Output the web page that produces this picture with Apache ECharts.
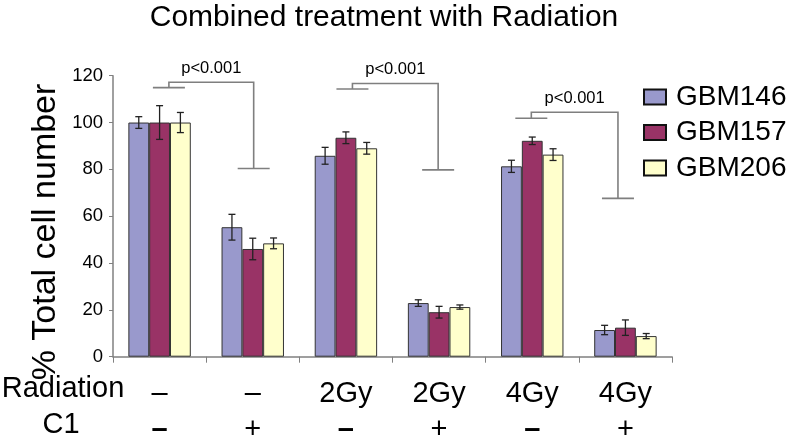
<!DOCTYPE html>
<html><head><meta charset="utf-8">
<script src="https://cdn.jsdelivr.net/npm/echarts@6/dist/echarts.min.js"></script>
<style>html,body{margin:0;padding:0;background:#fff}#c{width:794px;height:440px}</style>
</head><body><div id="c"></div>
<script>
const radiationLabels = ['–', '–', '2Gy', '2Gy', '4Gy', '4Gy'];
const c1Labels = ['–', '+', '–', '+', '–', '+'];
const seriesNames = ['GBM146', 'GBM157', 'GBM206'];
const gbm146 = [100, 55.3, 85.8, 22.9, 81.3, 11.4];
const err146 = [2.5, 5.5, 3.6, 1.4, 2.6, 2.0];
const gbm157 = [100, 46.0, 93.5, 19.0, 92.2, 12.4];
const err157 = [7.2, 4.6, 2.5, 2.5, 1.6, 3.3];
const gbm206 = [100, 48.4, 89.0, 21.2, 86.3, 8.8];
const err206 = [4.3, 2.3, 2.5, 0.9, 2.5, 1.1];
const yTicks = [0, 20, 40, 60, 80, 100, 120];
// brackets in category units: [leftX, rightX, lowY, topY, endY]
const bracketLeft = [0.60, 2.57, 4.49];
const bracketRight = [1.51, 3.49, 5.42];
const bracketLow = [114.9, 114.3, 101.8];
const bracketTop = [117.2, 116.7, 104.4];
const bracketEnd = [80.4, 79.8, 67.6];
const pLabels = ['p<0.001', 'p<0.001', 'p<0.001'];

const colors = ['#9999CC', '#993366', '#FFFFCC'];
const values = [gbm146, gbm157, gbm206];
const errs = [err146, err157, err206];
const GAP = 0.33;
const FONT = 'Liberation Sans, Arial, sans-serif';

const chart = echarts.init(document.getElementById('c'));
const series = [];
values.forEach((v, s) => {
  series.push({
    type: 'bar', name: seriesNames[s], data: v, barGap: '0%', barCategoryGap: (GAP*100)+'%',
    itemStyle: { color: colors[s], borderColor: '#333', borderWidth: 1 }, z: 2
  });
});
values.forEach((v, s) => {
  series.push({
    type: 'custom', xAxisIndex: 0, yAxisIndex: 0, z: 5, silent: true,
    data: v.map((val, i) => [i, val - errs[s][i], val + errs[s][i]]),
    renderItem: function (params, api) {
      const ci = api.value(0);
      const lo = api.coord([ci, api.value(1)]);
      const hi = api.coord([ci, api.value(2)]);
      const catW = api.size([1, 0])[0];
      const bw = catW * (1 - GAP) / 3;
      const x = lo[0] + (s - 1) * bw;
      const cap = 3.5;
      const st = { stroke: '#222', lineWidth: 1.3 };
      return { type: 'group', children: [
        { type: 'line', shape: { x1: x, y1: lo[1], x2: x, y2: hi[1] }, style: st },
        { type: 'line', shape: { x1: x - cap, y1: lo[1], x2: x + cap, y2: lo[1] }, style: st },
        { type: 'line', shape: { x1: x - cap, y1: hi[1], x2: x + cap, y2: hi[1] }, style: st }
      ]};
    }
  });
});
series.push({
  type: 'custom', xAxisIndex: 1, yAxisIndex: 0, z: 6, silent: true,
  data: bracketLeft.map((l, i) => [l, bracketRight[i], bracketLow[i], bracketTop[i], bracketEnd[i], i]),
  renderItem: function (params, api) {
    const l = api.value(0), r = api.value(1);
    const low = api.coord([l, api.value(2)]);
    const top = api.coord([l, api.value(3)]);
    const topR = api.coord([r, api.value(3)]);
    const end = api.coord([r, api.value(4)]);
    const hw = 16;
    const st = { stroke: '#7f7f7f', lineWidth: 1.6 };
    const idx = api.value(5);
    return { type: 'group', children: [
      { type: 'line', shape: { x1: low[0] - hw, y1: low[1], x2: low[0] + hw, y2: low[1] }, style: st },
      { type: 'polyline', shape: { points: [[low[0], low[1]], [top[0], top[1]], [topR[0], topR[1]], [end[0], end[1]]] }, style: Object.assign({ fill: null }, st) },
      { type: 'line', shape: { x1: end[0] - hw, y1: end[1], x2: end[0] + hw, y2: end[1] }, style: st },
      { type: 'text', x: (top[0] + topR[0]) / 2, y: top[1] - 5,
        style: { text: pLabels[idx], fill: '#000', font: '16.5px ' + FONT, align: 'center', verticalAlign: 'bottom' } }
    ]};
  }
});

chart.setOption({
  animation: false,
  color: colors,
  title: { text: 'Combined treatment with Radiation', left: 384, top: 3, padding: 0, textAlign: 'center',
    textStyle: { fontSize: 30, fontWeight: 'normal', color: '#000', fontFamily: FONT } },
  legend: {
    orient: 'vertical', left: 643, top: 83, padding: 0, itemWidth: 22, itemHeight: 15, itemGap: 7.5,
    icon: 'rect', data: seriesNames,
    itemStyle: { borderColor: '#111', borderWidth: 2 },
    textStyle: { fontSize: 28, color: '#000', fontFamily: FONT, lineHeight: 28, padding: [0, 0, 0, 5] }
  },
  grid: { left: 113, right: 122, top: 75.7, bottom: 83.3, containLabel: false, outerBoundsMode: 'none' },
  xAxis: [
    { type: 'category', data: radiationLabels,
      axisLine: { lineStyle: { color: '#808080', width: 1.5 } },
      axisTick: { show: true, length: 6, interval: 0, lineStyle: { color: '#808080' } },
      axisLabel: { interval: 0, margin: 19, color: '#000', fontFamily: FONT,
        formatter: function (v, i) { return '{a|' + radiationLabels[i] + '}\n{' + (c1Labels[i] === '–' ? 'd' : 'b') + '|' + c1Labels[i] + '}'; },
        rich: {
          a: { fontSize: 29, lineHeight: 36, fontFamily: FONT, color: '#000' },
          b: { fontSize: 29, lineHeight: 36, fontFamily: FONT, color: '#000' },
          d: { fontSize: 29, lineHeight: 36, fontFamily: FONT, color: '#000', fontWeight: 'bold' }
        } } },
    { type: 'value', min: 0, max: 6, show: false }
  ],
  yAxis: { type: 'value', min: yTicks[0], max: yTicks[yTicks.length - 1], interval: 20,
    axisLine: { show: true, lineStyle: { color: '#808080', width: 1.5 } },
    axisTick: { show: true, length: 4, lineStyle: { color: '#808080' } },
    splitLine: { show: false },
    axisLabel: { fontSize: 18.5, color: '#000', margin: 10, fontFamily: FONT } },
  graphic: [
    { type: 'text', x: 46, y: 232, rotation: Math.PI / 2,
      style: { text: '% Total cell number', font: '34px ' + FONT, fill: '#000', align: 'center', verticalAlign: 'middle' } },
    { type: 'text', x: 63, y: 389, style: { text: 'Radiation', font: '29px ' + FONT, fill: '#000', align: 'center', verticalAlign: 'middle' } },
    { type: 'text', x: 61, y: 425, style: { text: 'C1', font: '29px ' + FONT, fill: '#000', align: 'center', verticalAlign: 'middle' } }
  ],
  series: series
});
</script></body></html>
